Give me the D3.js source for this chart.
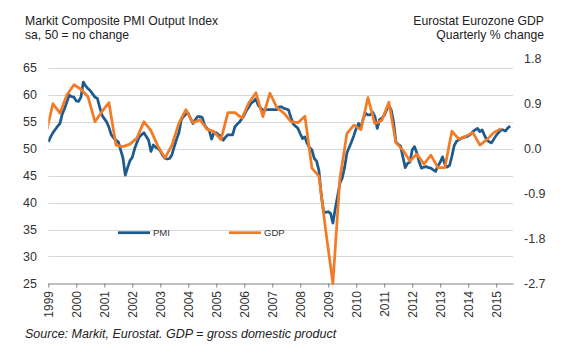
<!DOCTYPE html>
<html>
<head>
<meta charset="utf-8">
<script src="https://cdn.jsdelivr.net/npm/d3@7/dist/d3.min.js"></script>
<style>
  html, body { margin: 0; padding: 0; background: #ffffff; }
  svg { display: block; font-family: Arial, "Liberation Sans", sans-serif; }
</style>
</head>
<body>
<script>
// ---------- DATA ----------
// Markit Eurozone Composite PMI, monthly, Jan 1999 .. Jul 2015
const pmiStartYear = 1999;
const pmiValues = [
  // 1999
  51.3, 52.2, 53.0, 53.6, 54.2, 54.7, 56.5, 57.5, 58.8, 60.0, 59.7, 59.6,
  // 2000
  58.9, 58.8, 59.6, 62.4, 61.7, 61.2, 60.8, 60.2, 59.6, 59.4, 57.8, 56.3,
  // 2001
  55.6, 55.0, 54.0, 52.6, 52.0, 51.6, 51.3, 49.8, 48.3, 45.1, 46.5, 47.8,
  // 2002
  48.4, 50.0, 51.2, 52.2, 52.6, 53.0, 52.3, 51.6, 49.5, 50.7, 50.3, 50.1,
  // 2003
  49.6, 48.8, 48.2, 48.1, 48.2, 48.9, 50.4, 51.8, 53.0, 55.4, 56.0, 56.5,
  // 2004
  56.6, 55.6, 54.7, 55.4, 56.0, 56.0, 55.8, 54.4, 53.8, 53.4, 51.8, 53.0,
  // 2005
  53.0, 52.6, 52.4, 51.6, 52.2, 52.6, 52.6, 52.6, 54.1, 54.6, 55.0, 55.6,
  // 2006
  56.3, 57.2, 57.8, 58.5, 58.8, 59.3, 58.1, 57.6, 57.2, 57.2, 57.3, 57.3,
  // 2007
  57.3, 57.3, 57.3, 57.8, 57.8, 57.5, 57.4, 57.2, 55.8, 54.6, 54.2, 53.8,
  // 2008
  52.8, 51.9, 52.2, 51.0, 50.2, 49.8, 48.2, 47.7, 46.0, 41.5, 38.3, 38.2,
  // 2009
  38.3, 38.0, 36.2, 38.8, 41.2, 43.6, 44.6, 46.5, 49.2, 50.3, 51.3, 52.5,
  // 2010
  53.8, 54.7, 53.9, 55.6, 56.6, 56.3, 56.3, 56.8, 56.0, 53.8, 55.4, 55.7,
  // 2011
  56.2, 57.2, 58.1, 57.2, 55.0, 51.3, 50.8, 50.5, 48.5, 46.5, 47.3, 47.5,
  // 2012
  49.8, 50.4, 49.2, 47.5, 46.4, 46.6, 46.7, 46.5, 46.4, 46.1, 45.8, 46.8,
  // 2013
  47.5, 48.5, 47.1, 46.6, 46.9, 48.6, 50.6, 51.4, 51.7, 51.9, 52.1, 52.2,
  // 2014
  52.4, 52.7, 53.2, 53.5, 53.8, 53.2, 53.5, 52.5, 51.6, 51.3, 51.1, 51.8,
  // 2015
  52.5, 53.0, 53.5, 53.5, 53.3, 53.9, 54.2
];

// Eurostat Eurozone GDP, quarterly % change, Q4 1998 .. Q1 2015
const gdpStart = { year: 1998, quarter: 4 };
const gdpValues = [
  0.30,                    // 1998 Q4
  0.90, 0.71, 1.08, 1.28,  // 1999
  1.19, 1.04, 0.54, 0.74,  // 2000
  0.92, 0.07, 0.04, 0.09,  // 2001
  0.21, 0.54, 0.36, 0.05,  // 2002
  -0.19, 0.07, 0.51, 0.78, // 2003
  0.52, 0.58, 0.39, 0.34,  // 2004
  0.18, 0.72, 0.72, 0.61,  // 2005
  0.92, 1.12, 0.64, 1.11,  // 2006
  0.82, 0.71, 0.54, 0.52,  // 2007
  0.65, -0.39, -0.55, -1.67, // 2008
  -2.70, -0.60, 0.30, 0.47,  // 2009
  0.38, 1.02, 0.50, 0.57,  // 2010
  0.93, 0.12, -0.03, -0.25, // 2011
  -0.11, -0.31, -0.13, -0.38, // 2012
  -0.38, 0.35, 0.19, 0.25, // 2013
  0.32, 0.07, 0.18, 0.32,  // 2014
  0.40                     // 2015 Q1
];

const yearTicks = [1999, 2000, 2001, 2002, 2003, 2004, 2005, 2006, 2007,
                   2008, 2009, 2010, 2011, 2012, 2013, 2014, 2015];
const leftTicks = [25, 30, 35, 40, 45, 50, 55, 60, 65];
const rightTicks = [1.8, 0.9, 0.0, -0.9, -1.8, -2.7];

const titleLeft = ["Markit Composite PMI Output Index", "sa, 50 = no change"];
const titleRight = ["Eurostat Eurozone GDP", "Quarterly % change"];
const sourceText = "Source: Markit, Eurostat. GDP = gross domestic product";
const seriesNames = ["PMI", "GDP"];

// ---------- LAYOUT ----------
const W = 564, H = 356;
const plot = { left: 48.3, right: 513, top: 58.8, bottom: 283.3 };
const colPMI = "#1d5b8e";
const colGDP = "#f47b25";
const textCol = "#333333";
const FONT = "Arial, 'Liberation Sans', sans-serif";

const svg = d3.select("body").append("svg")
  .attr("width", W).attr("height", H);

const x = d3.scaleLinear().domain([1999, 2015.6]).range([plot.left, plot.right]);
const yL = d3.scaleLinear().domain([25, 66.73]).range([plot.bottom, plot.top]);
const yR = d3.scaleLinear().domain([-2.7, 1.8]).range([plot.bottom, plot.top]);

// series with time positions
const pmiData = pmiValues.map((v, i) => ({ t: pmiStartYear + i / 12, v }));
const gdpData = gdpValues.map((v, i) => {
  const qi = (gdpStart.quarter - 1) + i;
  const yr = gdpStart.year + Math.floor(qi / 4);
  const q = (qi % 4) + 1;
  return { t: yr + (3 * q - 1) / 12, v };
});

// gridlines
svg.append("g")
  .selectAll("line")
  .data(leftTicks.filter(d => d > 25))
  .join("line")
  .attr("x1", plot.left).attr("x2", plot.right)
  .attr("y1", d => Math.round(yL(d)) + 0.5).attr("y2", d => Math.round(yL(d)) + 0.5)
  .attr("stroke", "#d9d9d9").attr("stroke-width", 1);

// left axis labels
svg.append("g")
  .selectAll("text")
  .data(leftTicks)
  .join("text")
  .attr("x", 37).attr("y", d => yL(d))
  .attr("dy", "0.35em")
  .attr("text-anchor", "end")
  .attr("font-family", FONT)
  .attr("font-size", 12.5).attr("fill", textCol)
  .text(d => d);

// right axis labels
svg.append("g")
  .selectAll("text")
  .data(rightTicks)
  .join("text")
  .attr("x", 524).attr("y", d => yR(d))
  .attr("dy", "0.35em")
  .attr("text-anchor", "start")
  .attr("font-family", FONT)
  .attr("font-size", 12.5).attr("fill", textCol)
  .text(d => d.toFixed(1));

// x axis: line + tick marks
const axisY = Math.round(plot.bottom) + 0.5;
const gx = svg.append("g")
  .attr("class", "x-axis")
  .attr("transform", `translate(0,${axisY})`)
  .call(d3.axisBottom(x)
    .tickValues(yearTicks)
    .tickSize(4)
    .tickSizeOuter(0)
    .tickFormat(() => ""));
gx.select(".domain").attr("stroke", "#7f7f7f");
gx.selectAll(".tick line").attr("stroke", "#7f7f7f");
gx.selectAll(".tick text").remove();

// rotated year labels (reading bottom-to-top)
const yl = svg.append("g").attr("class", "year-labels")
  .selectAll("g")
  .data(yearTicks)
  .join("g")
  .attr("transform", d => `translate(${x(d)},${axisY + 7.5})`);
yl.append("text")
  .attr("transform", "rotate(-90)")
  .attr("x", 0).attr("y", 0)
  .attr("text-anchor", "end")
  .attr("dy", "0.36em")
  .attr("font-family", FONT)
  .attr("font-size", 12)
  .attr("fill", textCol)
  .text(d => String(d));

// clip
svg.append("clipPath").attr("id", "clip")
  .append("rect")
  .attr("x", plot.left).attr("y", 0)
  .attr("width", plot.right - plot.left).attr("height", plot.bottom + 6);

// lines
const linePMI = d3.line().x(d => x(d.t)).y(d => yL(d.v));
const lineGDP = d3.line().x(d => x(d.t)).y(d => yR(d.v));

const gLines = svg.append("g").attr("clip-path", "url(#clip)");
gLines.append("path").datum(pmiData)
  .attr("d", linePMI)
  .attr("fill", "none").attr("stroke", colPMI)
  .attr("stroke-width", 2.75).attr("stroke-linejoin", "round");
gLines.append("path").datum(gdpData)
  .attr("d", lineGDP)
  .attr("fill", "none").attr("stroke", colGDP)
  .attr("stroke-width", 2.75).attr("stroke-linejoin", "round");

// legend
const legend = [
  { name: seriesNames[0], color: colPMI, x: 118 },
  { name: seriesNames[1], color: colGDP, x: 229 }
];
const legY = 232.7;
const lg = svg.append("g").selectAll("g").data(legend).join("g");
lg.append("line")
  .attr("x1", d => d.x).attr("x2", d => d.x + 32)
  .attr("y1", legY).attr("y2", legY)
  .attr("stroke", d => d.color).attr("stroke-width", 2.75);
lg.append("text")
  .attr("x", d => d.x + 35).attr("y", legY).attr("dy", "0.35em")
  .attr("font-family", FONT)
  .attr("font-size", 9.5).attr("fill", textCol)
  .text(d => d.name);

// titles
svg.append("g").selectAll("text").data(titleLeft).join("text")
  .attr("x", 25).attr("y", (d, i) => 25 + i * 13.5)
  .attr("font-family", FONT)
  .attr("font-size", 12.2).attr("fill", "#222")
  .text(d => d);
svg.append("g").selectAll("text").data(titleRight).join("text")
  .attr("x", 544).attr("y", (d, i) => 25 + i * 13.5)
  .attr("text-anchor", "end")
  .attr("font-family", FONT)
  .attr("font-size", 12.2).attr("fill", "#222")
  .text(d => d);

// source
svg.append("text")
  .attr("x", 25).attr("y", 338)
  .attr("font-family", FONT)
  .attr("font-size", 12.5).attr("font-style", "italic").attr("fill", "#222")
  .text(sourceText);
</script>
</body>
</html>
